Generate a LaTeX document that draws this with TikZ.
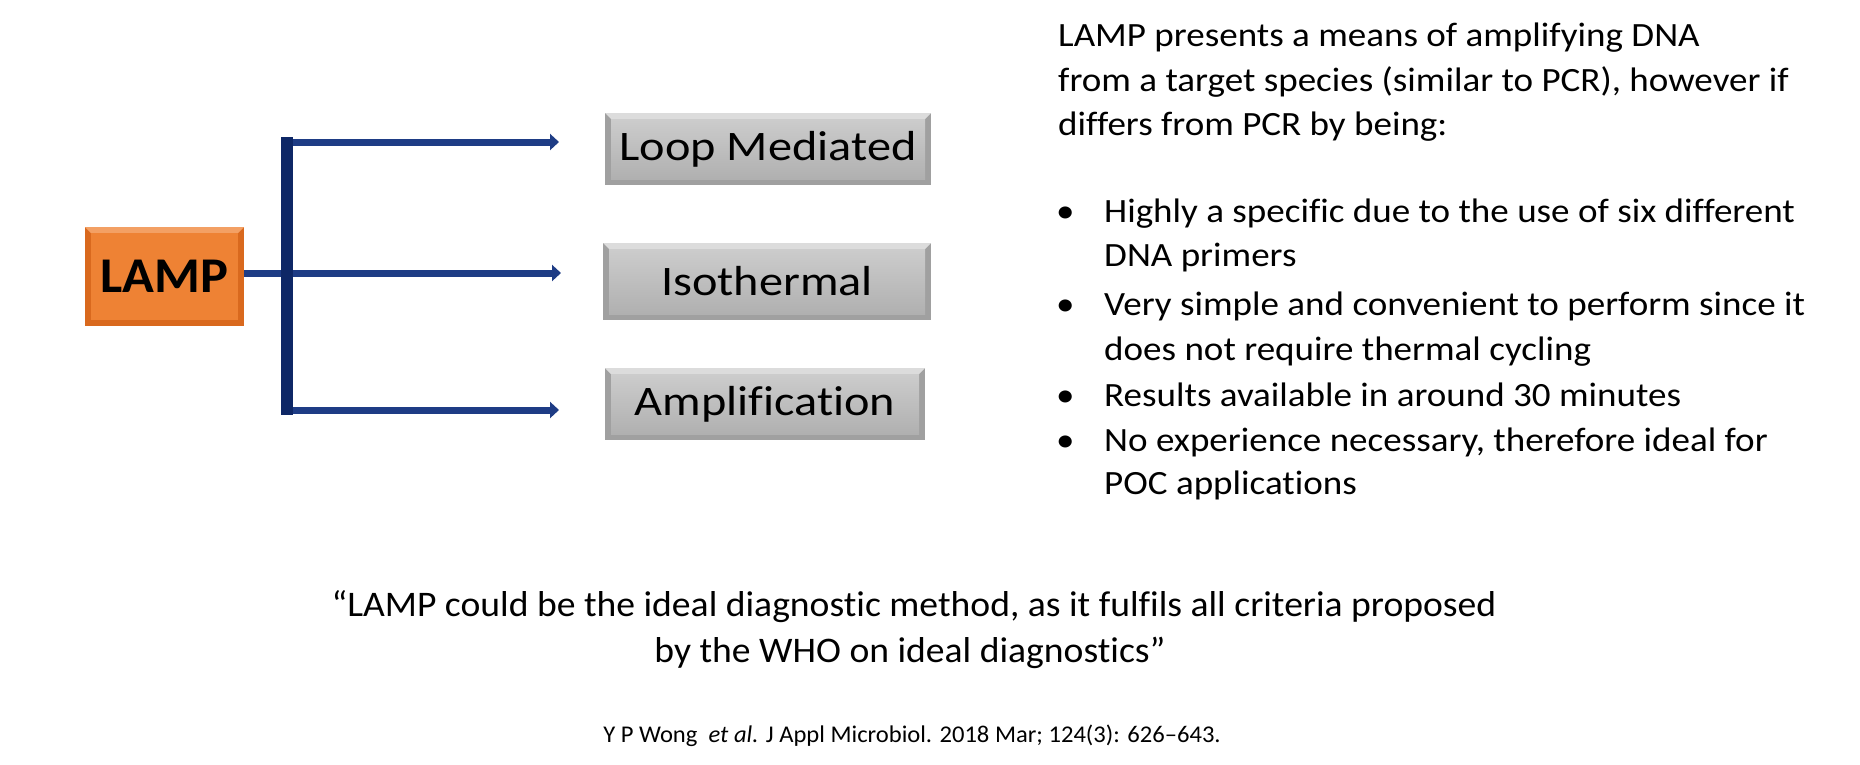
\documentclass[tikz,border=0pt]{standalone}
\usepackage{fontspec}
\setmainfont[Ligatures=NoCommon]{Carlito}
\newfontfamily\lampfont[FakeStretch=1.05,Ligatures=NoCommon]{Carlito}
\newfontfamily\boxfont[FakeStretch=1.15,Ligatures=NoCommon]{Carlito}
\newfontfamily\rtfont[FakeStretch=1.09,Ligatures=NoCommon]{Carlito}
\newfontfamily\qfont[FakeStretch=1.045,Ligatures=NoCommon]{Carlito}
\newfontfamily\cfont[FakeStretch=1.025,Ligatures=NoCommon]{Carlito}
\usetikzlibrary{arrows.meta}
\definecolor{lamporange}{HTML}{EE8234}
\definecolor{lamplight}{HTML}{F3A064}
\definecolor{lampedge}{HTML}{D9691E}
\definecolor{navyline}{HTML}{1E3C85}
\definecolor{navybar}{HTML}{0E2766}
\definecolor{grayedge}{HTML}{A0A0A0}
\definecolor{graylight}{HTML}{DCDCDC}
\definecolor{graytop}{HTML}{CCCCCC}
\definecolor{graybot}{HTML}{B0B0B0}
\begin{document}
\begin{tikzpicture}[x=1pt,y=-1pt,
  lampbox/.style={fill=lampedge, minimum width=159pt, minimum height=99pt, inner sep=0pt,
    font=\lampfont\fontsize{50}{56}\selectfont\bfseries,
    path picture={
      \fill[lamplight] (path picture bounding box.north west) -- (path picture bounding box.north east) -- ([shift={(-6pt,-6pt)}]path picture bounding box.north east) -- ([shift={(6pt,-6pt)}]path picture bounding box.north west) -- cycle;
      \fill[lamporange] ([shift={(6pt,-6pt)}]path picture bounding box.north west) rectangle ([shift={(-6pt,6pt)}]path picture bounding box.south east);}},
  graybox/.style={fill=grayedge, inner sep=0pt, font=\boxfont\fontsize{42}{48}\selectfont,
    path picture={
      \fill[graylight] (path picture bounding box.north west) -- (path picture bounding box.north east) -- ([shift={(-6pt,-6pt)}]path picture bounding box.north east) -- ([shift={(6pt,-6pt)}]path picture bounding box.north west) -- cycle;
      \shade[top color=graytop, bottom color=graybot] ([shift={(6pt,-6pt)}]path picture bounding box.north west) rectangle ([shift={(-6pt,6pt)}]path picture bounding box.south east);}},
  hline/.style={draw=navyline, line width=7pt, -{Triangle[length=9pt,width=16pt]}},
  vbar/.style={draw=navybar, line width=12pt, line cap=butt},
  bodytext/.style={anchor=base west, inner sep=0pt, font=\rtfont\fontsize{34}{40}\selectfont},
  quotetext/.style={anchor=base, inner sep=0pt, font=\qfont\fontsize{36}{42}\selectfont},
  citetext/.style={anchor=base, inner sep=0pt, font=\cfont\fontsize{24}{28}\selectfont}
]
\useasboundingbox (0,0) rectangle (1860,764);
\fill[white] (0,0) rectangle (1860,764);

% left diagram
\node[lampbox] (lamp) at (164.5,276.5) {LAMP};
\node[graybox, minimum width=326pt, minimum height=72pt] (b1) at (768,149) {Loop Mediated};
\node[graybox, minimum width=328pt, minimum height=77pt] (b2) at (767,281.5) {Isothermal};
\node[graybox, minimum width=320pt, minimum height=72pt] (b3) at (765,404) {Amplification};

\coordinate (jt) at (287,137);
\coordinate (jb) at (287,415);
\coordinate (j1) at (284,142);
\coordinate (j3) at (284,410);
\coordinate (e1) at (559,142);
\coordinate (e2) at (561,273);
\coordinate (e3) at (559,410);

\draw[hline] (j1) -- (e1);
\draw[hline] (j3) -- (e3);
\draw[hline] (lamp.east |- e2) -- (e2);
\draw[vbar] (jt) -- (jb);

% right text
\node[bodytext] (t1) at (1058,46) {LAMP presents a means of amplifying DNA};
\node[bodytext] (t2) at (1058,91) {from a target species (similar to PCR), however if};
\node[bodytext] (t3) at (1058,135) {differs from PCR by being:};

\node[bodytext] (u1) at (1056,222) {•};
\node[bodytext] (l1) at (1104,222) {Highly a specific due to the use of six different};
\node[bodytext] (l2) at (1104,266) {DNA primers};
\node[bodytext] (u2) at (1056,315) {•};
\node[bodytext] (l3) at (1104,315) {Very simple and convenient to perform since it};
\node[bodytext] (l4) at (1104,360) {does not require thermal cycling};
\node[bodytext] (u3) at (1056,406) {•};
\node[bodytext] (l5) at (1104,406) {Results available in around 30 minutes};
\node[bodytext] (u4) at (1056,451) {•};
\node[bodytext] (l6) at (1104,451) {No experience necessary, therefore ideal for};
\node[bodytext] (l7) at (1104,494) {POC applications};

% quote
\node[quotetext] (q1) at (914,616) {“LAMP could be the ideal diagnostic method, as it fulfils all criteria proposed};
\node[quotetext] (q2) at (910,662) {by the WHO on ideal diagnostics”};
\node[citetext] (c1) at (912,742) {Y P Wong\ \ \textit{et al.} J Appl Microbiol. 2018 Mar; 124(3): 626–643.};
\end{tikzpicture}
\end{document}
